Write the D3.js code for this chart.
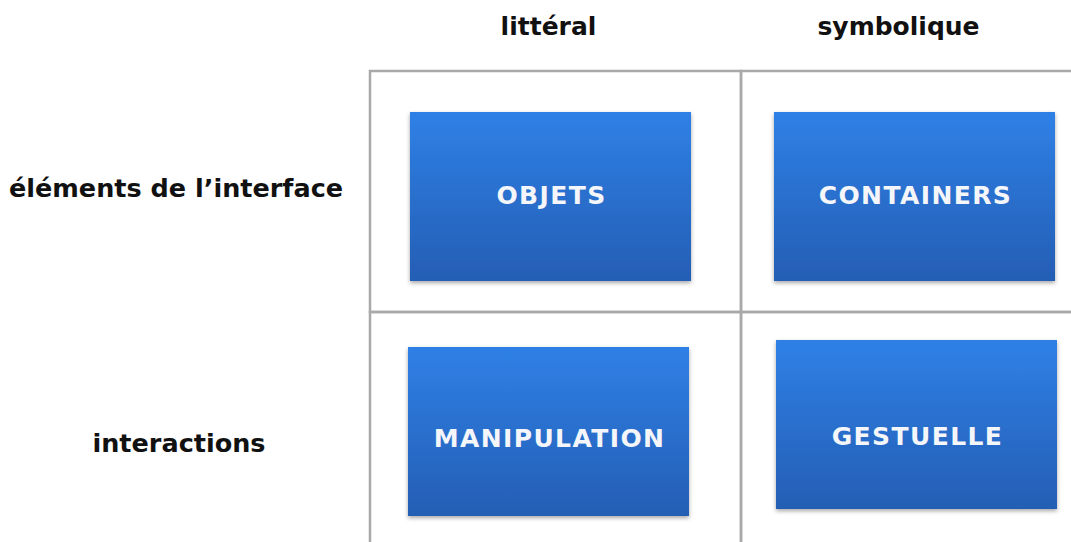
<!DOCTYPE html>
<html><head><meta charset="utf-8">
<script src="https://cdn.jsdelivr.net/npm/d3@7"></script>
<style>html,body{margin:0;padding:0;background:#fff;}svg{display:block;}</style>
</head><body>
<svg id="c" width="1071" height="542"></svg>
<script>
const columns = ["littéral", "symbolique"];
const rows = ["éléments de l’interface", "interactions"];
const cells = [
  {row: "éléments de l’interface", col: "littéral", label: "OBJETS"},
  {row: "éléments de l’interface", col: "symbolique", label: "CONTAINERS"},
  {row: "interactions", col: "littéral", label: "MANIPULATION"},
  {row: "interactions", col: "symbolique", label: "GESTUELLE"}
];

const svg = d3.select("#c");
const x = d3.scaleBand().domain(columns).range([370, 1112]);
const y = d3.scaleBand().domain(rows).range([71, 553]);

const defs = svg.append("defs");
const grad = defs.append("linearGradient").attr("id","g").attr("x1",0).attr("y1",0).attr("x2",0).attr("y2",1);
grad.append("stop").attr("offset","0%").attr("stop-color","#2f80e6");
grad.append("stop").attr("offset","100%").attr("stop-color","#245eb4");
const f = defs.append("filter").attr("id","sh").attr("x","-10%").attr("y","-10%").attr("width","120%").attr("height","130%");
f.append("feDropShadow").attr("dx",0).attr("dy",2).attr("stdDeviation",2).attr("flood-color","#000").attr("flood-opacity",0.35);

const font = "'DejaVu Sans', Verdana, sans-serif";

// grid
const g = svg.append("g");
columns.forEach(c => rows.forEach(r => {
  g.append("rect").attr("x", x(c)).attr("y", y(r)).attr("width", x.bandwidth()).attr("height", y.bandwidth())
    .attr("fill","none").attr("stroke","#a9a9a9").attr("stroke-width",2.5);
}));

// boxes: layout offsets [dx, dy, text baseline offset]
const layout = {"OBJETS":[40,41,92], "CONTAINERS":[33,41,92], "MANIPULATION":[38,35,100], "GESTUELLE":[35,28,105]};
cells.forEach(d => {
  const o = layout[d.label];
  const bx = x(d.col) + o[0], by = y(d.row) + o[1];
  svg.append("rect").attr("x", bx).attr("y", by).attr("width", 281).attr("height", 169)
    .attr("fill","url(#g)").attr("filter","url(#sh)");
  svg.append("text").attr("x", bx + 141.5).attr("y", by + o[2]).attr("text-anchor","middle")
    .attr("font-family", font).attr("font-weight","bold").attr("font-size", 25).attr("letter-spacing", 1.4)
    .attr("fill","#f4f6fa").text(d.label);
});

// column headers
svg.selectAll(".ch").data(columns).enter().append("text")
  .attr("x", d => x(d) + x.bandwidth()/2 - (d==="littéral"?7:28)).attr("y", 35).attr("text-anchor","middle")
  .attr("font-family", font).attr("font-weight","bold").attr("font-size", 25).attr("fill","#111").text(d => d);

// row headers
svg.selectAll(".rh").data(rows).enter().append("text")
  .attr("x", d => d===rows[0] ? 176 : 179).attr("y", d => d===rows[0] ? 197 : 452).attr("text-anchor","middle")
  .attr("font-family", font).attr("font-weight","bold").attr("font-size", 25.5).attr("fill","#111").text(d => d);
</script>
</body></html>
